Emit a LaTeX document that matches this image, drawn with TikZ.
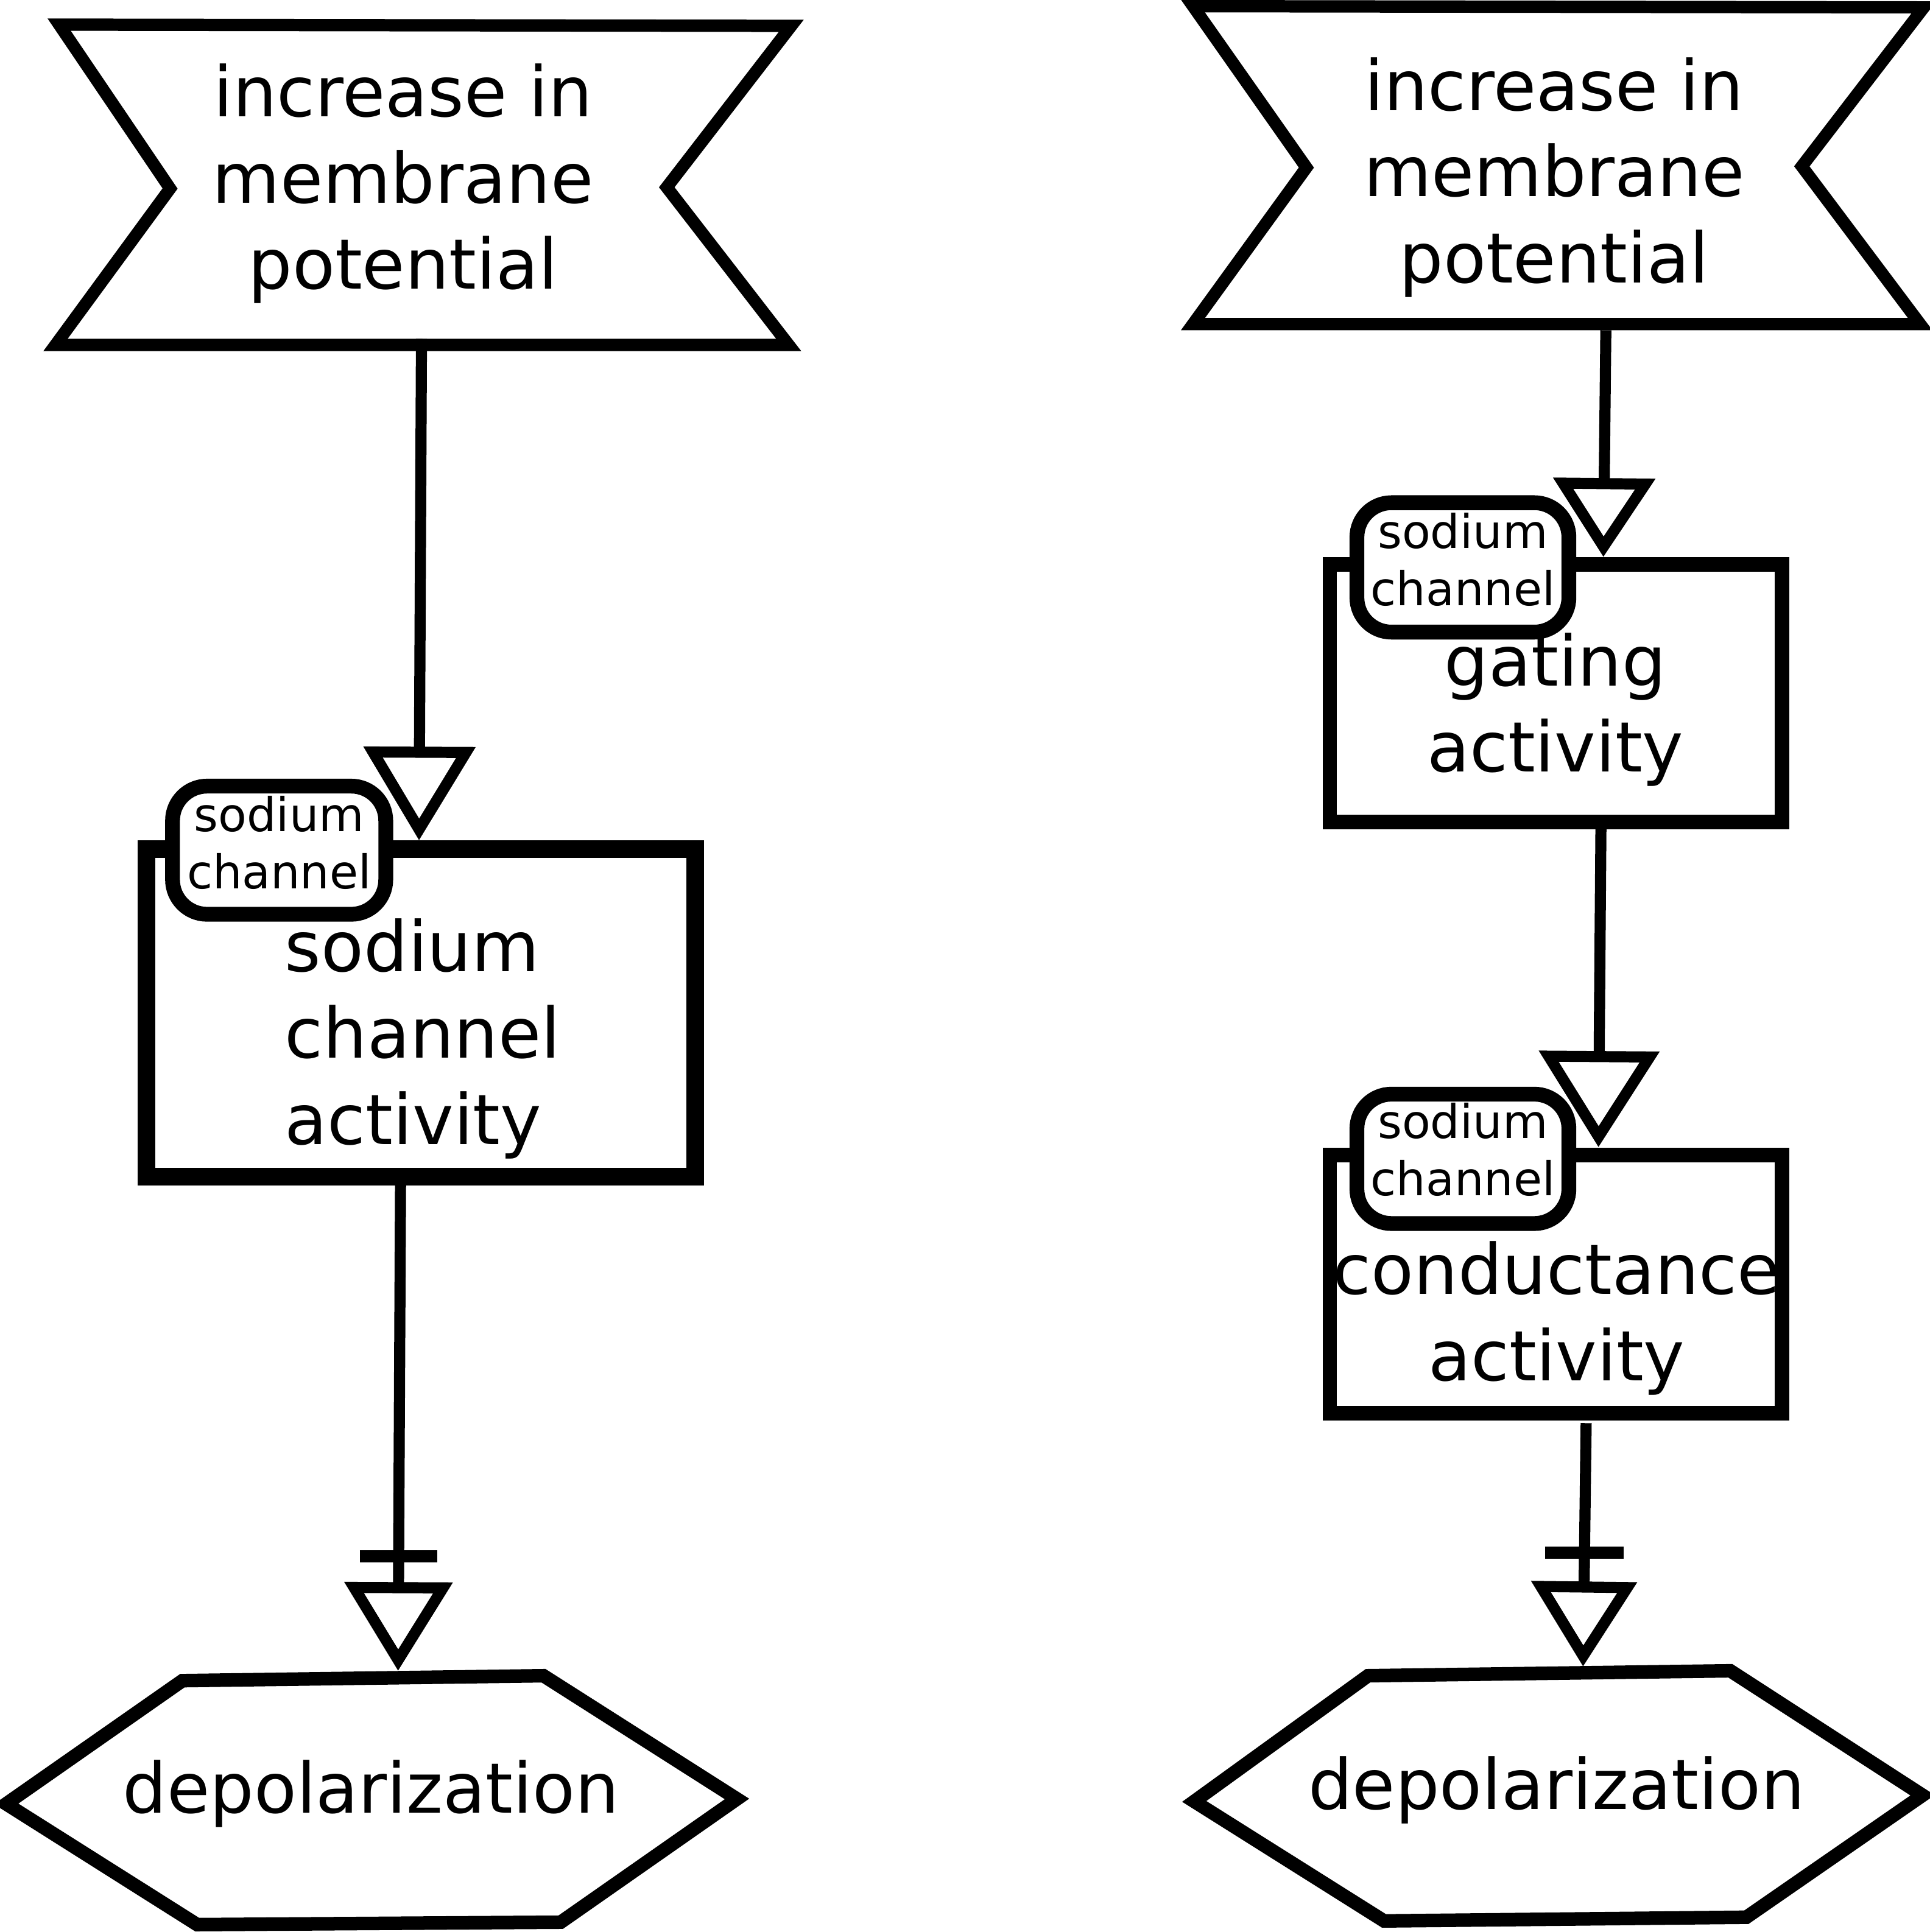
\documentclass[tikz,border=0pt]{standalone}
\usepackage{fontspec}
\setmainfont{DejaVu Sans}
\usetikzlibrary{arrows.meta}
\tikzset{
  flagshape/.style={draw=black, line width=10pt, line join=miter, fill=white},
  pdshape/.style={draw=black, line width=11pt, line join=miter, fill=white},
  boxshape/.style={draw=black, line width=#1, fill=white},
  uoishape/.style={draw=black, line width=12pt, fill=white, rounded corners=28pt},
  bigtext/.style={inner sep=0pt, font=\fontsize{56.5}{70}\selectfont, align=center},
  smalltext/.style={inner sep=0pt, font=\fontsize{37.8}{46.5}\selectfont, align=center},
  stimarrow/.style args={#1/#2}{draw=black, line width=9pt, -{Triangle[length=#1pt,width=#2pt,fill=white,line join=miter]}},
  barline/.style={draw=black, line width=9.7pt},
}
\begin{document}
\begin{tikzpicture}[x=1pt,y=-1pt]
\useasboundingbox (0,0) rectangle (1566,1568);
\fill[white] (0,0) rectangle (1566,1568);

% ---------------- left column ----------------
\draw[flagshape] (48,20) -- (642,21) -- (541,152) -- (640,280) -- (45,280) -- (138,153) -- cycle;
\node[bigtext] (Lflag) at (327,149) {increase in\\membrane\\potential};

\draw[boxshape=14.5pt] (119,689) rectangle (564,955);
\node[bigtext, align=left] (Lact) at (343,843) {sodium\\channel\\activity};

\draw[pdshape] (148,1364) -- (441,1360) -- (598,1460) -- (455,1560) -- (160,1562) -- (5,1464) -- cycle;
\node[bigtext] (Lpd) at (301,1456) {depolarization};

\coordinate (L1s) at (342,275);
\coordinate (L1e) at (340,682);
\draw[stimarrow=76/89] (L1s) -- (L1e);

\draw[uoishape] (140,638) rectangle (313,742);
\node[smalltext] (Luoi) at (226.5,684) {sodium\\channel};

\coordinate (L2s) at (325,960);
\coordinate (L2e) at (323,1356);
\draw[stimarrow=72/86] (L2s) -- (L2e);
\coordinate (Lbar) at (323.5,1263);
\draw[barline] ([xshift=-31.5pt]Lbar) -- ([xshift=31.5pt]Lbar);

% ---------------- right column ----------------
\draw[flagshape] (968,5) -- (1561,6) -- (1462,135) -- (1558,263) -- (968,263) -- (1060,136) -- cycle;
\node[bigtext] (Rflag) at (1261,144) {increase in\\membrane\\potential};

\draw[boxshape=11.8pt] (1079,458) rectangle (1446,667);
\node[bigtext] (Rgat) at (1262,576) {gating\\activity};

\draw[boxshape=11.8pt] (1079,937.5) rectangle (1446,1147);
\node[bigtext] (Rcon) at (1263,1070) {conductance\\activity};

\draw[pdshape] (1110,1360) -- (1404,1356) -- (1560,1457) -- (1417,1556) -- (1123,1559) -- (969,1462) -- cycle;
\node[bigtext] (Rpd) at (1263,1453) {depolarization};

\coordinate (R1s) at (1303,268);
\coordinate (R1e) at (1301,452);
\draw[stimarrow=64/81] (R1s) -- (R1e);

\draw[uoishape] (1101,408) rectangle (1273,513);
\node[smalltext] (Ruoi1) at (1187,454) {sodium\\channel};

\coordinate (R2s) at (1299,672);
\coordinate (R2e) at (1297,931);
\draw[stimarrow=78/96] (R2s) -- (R2e);

\draw[uoishape] (1101,888) rectangle (1273,993);
\node[smalltext] (Ruoi2) at (1187,933) {sodium\\channel};

\coordinate (R3s) at (1287,1155);
\coordinate (R3e) at (1284.5,1352.5);
\draw[stimarrow=69/84] (R3s) -- (R3e);
\coordinate (Rbar) at (1285.6,1260);
\draw[barline] ([xshift=-32pt]Rbar) -- ([xshift=32pt]Rbar);
\end{tikzpicture}
\end{document}
